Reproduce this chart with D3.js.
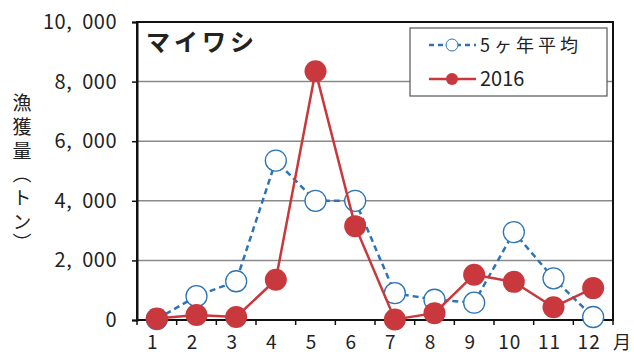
<!DOCTYPE html>
<html>
<head>
<meta charset="utf-8">
<script src="https://cdn.jsdelivr.net/npm/d3@7"></script>
<style>
  html, body { margin: 0; padding: 0; background: #fff; }
  svg { display: block; }
  text { font-family: "Noto Sans CJK JP", "Noto Sans", sans-serif; fill: #222; }
</style>
</head>
<body>
<svg id="chart" width="634" height="356"></svg>
<script>
// Monthly sardine (マイワシ) catch, tonnes
const months = ["1", "2", "3", "4", "5", "6", "7", "8", "9", "10", "11", "12"];
const avg5yr = [30, 800, 1300, 5350, 4000, 4000, 900, 680, 580, 2950, 1400, 100];
const catch2016 = [50, 170, 100, 1350, 8350, 3150, 20, 230, 1520, 1280, 430, 1070];
const yTicks = [0, 2000, 4000, 6000, 8000, 10000];
const seriesNames = ["5ヶ年平均", "2016"];
const yTitle = "漁獲量（トン）";

const svg = d3.select("#chart");
const m = { left: 137, top: 22, right: 613, bottom: 320 };

const x = d3.scaleBand().domain(months).range([m.left, m.right]).padding(0);
const y = d3.scaleLinear().domain([0, 10000]).range([m.bottom, m.top]);
const cx = d => x(d) + x.bandwidth() / 2;

const red = "#c8383d";
const blue = "#2e74b5";

// horizontal gridlines
svg.append("g")
  .selectAll("line")
  .data(yTicks.filter(t => t > 0 && t < 10000))
  .join("line")
  .attr("x1", m.left).attr("x2", m.right)
  .attr("y1", d => y(d)).attr("y2", d => y(d))
  .attr("stroke", "#8a8a8a").attr("stroke-width", 1.5);

// plot frame
svg.append("rect")
  .attr("x", m.left).attr("y", m.top)
  .attr("width", m.right - m.left).attr("height", m.bottom - m.top)
  .attr("fill", "none").attr("stroke", "#111").attr("stroke-width", 2);

// y axis
const fmt = d3.format(",");
const yAxis = svg.append("g")
  .attr("transform", `translate(${m.left},0)`)
  .call(d3.axisLeft(y).tickValues(yTicks).tickSize(5).tickFormat(d => fmt(d).replace(",", ",  ")));
yAxis.select(".domain").attr("stroke", "#111").attr("stroke-width", 2);
yAxis.selectAll(".tick line").attr("stroke", "#111").attr("stroke-width", 1.5);
yAxis.selectAll(".tick text")
  .attr("x", -20).attr("font-size", 20).attr("fill", "#222")
  .style("white-space", "pre")
  .style("letter-spacing", "0.5px")
  .style("font-family", "'Noto Sans CJK JP', sans-serif");

// x axis: ticks at band boundaries, labels at band centres
const xAxisG = svg.append("g").attr("transform", `translate(0,${m.bottom})`);
xAxisG.append("line")
  .attr("x1", m.left).attr("x2", m.right)
  .attr("stroke", "#111").attr("stroke-width", 2);
xAxisG.selectAll(".xt")
  .data(months.map(d => x(d)).concat([m.right]))
  .join("line")
  .attr("class", "xt")
  .attr("x1", d => d).attr("x2", d => d)
  .attr("y1", 0).attr("y2", 5)
  .attr("stroke", "#111").attr("stroke-width", 1.5);
xAxisG.selectAll(".xl")
  .data(months)
  .join("text")
  .attr("class", "xl")
  .attr("x", d => cx(d) - 4)
  .attr("y", 29)
  .attr("text-anchor", "middle")
  .attr("font-size", 19)
  .style("letter-spacing", "1px")
  .text(d => d);
svg.append("text")
  .attr("x", 622).attr("y", 349)
  .attr("text-anchor", "middle").attr("font-size", 18)
  .text("月");

// y axis title, one glyph per step, set vertically so the brackets turn
const titleY = [103, 127, 151, 174, 198, 222, 243];
const tg = svg.append("g");
Array.from(yTitle).forEach((ch, i) => {
  tg.append("text")
    .attr("x", 22).attr("y", titleY[i])
    .attr("text-anchor", "middle")
    .attr("font-size", 19)
    .style("writing-mode", "vertical-rl")
    .style("text-orientation", "upright")
    .text(ch);
});

// chart title
svg.append("text")
  .attr("x", 146).attr("y", 51)
  .attr("font-size", 24).attr("font-weight", "bold")
  .style("letter-spacing", "4px")
  .text("マイワシ");

const line = d3.line().x((d, i) => cx(months[i])).y(d => y(d));

// 5-year average: dashed blue, open markers
svg.append("path")
  .datum(avg5yr)
  .attr("d", line)
  .attr("fill", "none").attr("stroke", blue)
  .attr("stroke-width", 2.5).attr("stroke-dasharray", "6,4");
svg.append("g").selectAll("circle")
  .data(avg5yr)
  .join("circle")
  .attr("cx", (d, i) => cx(months[i])).attr("cy", d => y(d))
  .attr("r", 10.5)
  .attr("fill", "#fff").attr("stroke", blue).attr("stroke-width", 1.3);

// 2016: solid red, filled markers
svg.append("path")
  .datum(catch2016)
  .attr("d", line)
  .attr("fill", "none").attr("stroke", red).attr("stroke-width", 2.5);
svg.append("g").selectAll("circle")
  .data(catch2016)
  .join("circle")
  .attr("cx", (d, i) => cx(months[i])).attr("cy", d => y(d))
  .attr("r", 11)
  .attr("fill", red);

// legend
const lg = svg.append("g");
lg.append("rect")
  .attr("x", 410).attr("y", 28).attr("width", 197).attr("height", 68)
  .attr("fill", "#fff").attr("stroke", "#555").attr("stroke-width", 1.2);
const rows = [
  { name: seriesNames[0], color: blue, dash: "5,4", fill: "#fff", y: 45, size: 18, ls: "4px" },
  { name: seriesNames[1], color: red, dash: null, fill: red, y: 79, size: 20, ls: "0px" }
];
rows.forEach(r => {
  lg.append("line")
    .attr("x1", 429).attr("x2", 476).attr("y1", r.y).attr("y2", r.y)
    .attr("stroke", r.color).attr("stroke-width", 2.5)
    .attr("stroke-dasharray", r.dash);
  lg.append("circle")
    .attr("cx", 452).attr("cy", r.y).attr("r", 6)
    .attr("fill", r.fill).attr("stroke", r.color).attr("stroke-width", r.dash ? 1 : 0);
  lg.append("text")
    .attr("x", 480).attr("y", r.y + 7)
    .attr("font-size", r.size)
    .style("letter-spacing", r.ls)
    .text(r.name);
});
</script>
</body>
</html>
